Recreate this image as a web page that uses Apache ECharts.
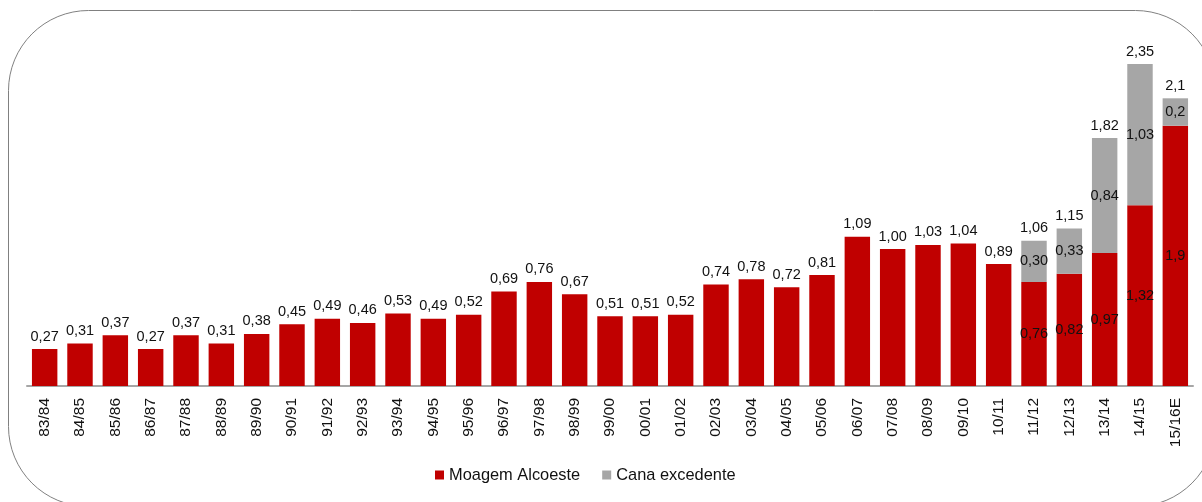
<!DOCTYPE html>
<html>
<head>
<meta charset="utf-8">
<script src="https://cdn.jsdelivr.net/npm/echarts@6/dist/echarts.min.js"></script>
<style>
  html, body { margin: 0; padding: 0; background: #fff; }
  #chart { width: 1202px; height: 502px; }
</style>
</head>
<body>
<div id="chart"></div>
<script>
const categories = ["83/84", "84/85", "85/86", "86/87", "87/88", "88/89", "89/90", "90/91", "91/92", "92/93",
  "93/94", "94/95", "95/96", "96/97", "97/98", "98/99", "99/00", "00/01", "01/02", "02/03", "03/04",
  "04/05", "05/06", "06/07", "07/08", "08/09", "09/10", "10/11", "11/12", "12/13", "13/14", "14/15", "15/16E"];

const moagem = [0.27, 0.31, 0.37, 0.27, 0.37, 0.31, 0.38, 0.45, 0.49, 0.46, 0.53, 0.49, 0.52, 0.69, 0.76,
  0.67, 0.51, 0.51, 0.52, 0.74, 0.78, 0.72, 0.81, 1.09, 1.00, 1.03, 1.04, 0.89, 0.76, 0.82, 0.97, 1.32, 1.9];

const excedente = [null, null, null, null, null, null, null, null, null, null, null, null, null, null, null,
  null, null, null, null, null, null, null, null, null, null, null, null, null, 0.30, 0.33, 0.84, 1.03, 0.2];

const totais = [null, null, null, null, null, null, null, null, null, null, null, null, null, null, null,
  null, null, null, null, null, null, null, null, null, null, null, null, null, 1.06, 1.15, 1.82, 2.35, 2.1];

const FONT = "'Liberation Sans', Arial, sans-serif";

// estimativa (E) mostrada com uma casa decimal
const fmt = (v, i) => v.toFixed(categories[i].endsWith("E") ? 1 : 2).replace(".", ",");

const chart = echarts.init(document.getElementById("chart"));

const labelBase = {
  show: true,
  color: "#111",
  fontFamily: FONT,
  fontSize: 14.5,
};

chart.setOption({
  animation: false,
  graphic: [
    {
      type: "rect",
      z: -10,
      shape: { x: 8.5, y: 10.5, width: 1207, height: 496, r: 80 },
      style: { fill: "none", stroke: "#808080", lineWidth: 1 },
    },
  ],
  legend: {
    data: ["Moagem Alcoeste", "Cana excedente"],
    left: 430,
    top: 462,
    icon: "rect",
    itemWidth: 9,
    itemHeight: 9,
    itemGap: 22,
    textStyle: { fontFamily: FONT, fontSize: 16.4, color: "#111" },
  },
  grid: {
    left: 27,
    right: 9,
    top: 43.5,
    bottom: 116,
    containLabel: false,
  },
  xAxis: {
    type: "category",
    data: categories,
    axisLine: { lineStyle: { color: "#A6A6A6", width: 2 } },
    axisTick: { show: false },
    axisLabel: {
      rotate: 90,
      margin: 12,
      interval: 0,
      color: "#111",
      fontFamily: FONT,
      fontSize: 15.5,
    },
  },
  yAxis: {
    type: "value",
    min: 0,
    max: 2.5,
    show: false,
    splitLine: { show: false },
  },
  series: [
    {
      name: "Moagem Alcoeste",
      type: "bar",
      stack: "total",
      barCategoryGap: "28%",
      itemStyle: { color: "#C00000" },
      data: moagem.map((v, i) => ({
        value: v,
        label: {
          ...labelBase,
          position: excedente[i] == null ? "top" : "inside",
          formatter: () => fmt(v, i),
        },
      })),
    },
    {
      name: "Cana excedente",
      type: "bar",
      stack: "total",
      itemStyle: { color: "#A6A6A6" },
      data: excedente.map((v, i) => (v == null ? null : {
        value: v,
        label: { ...labelBase, position: "inside", formatter: () => fmt(v, i) },
      })),
    },
    {
      name: "Total",
      type: "bar",
      stack: "total",
      itemStyle: { color: "transparent" },
      data: totais.map((v, i) => (v == null ? null : {
        value: 0,
        label: { ...labelBase, position: "top", formatter: () => fmt(v, i) },
      })),
    },
  ],
});

window.addEventListener("resize", () => chart.resize());
</script>
</body>
</html>
